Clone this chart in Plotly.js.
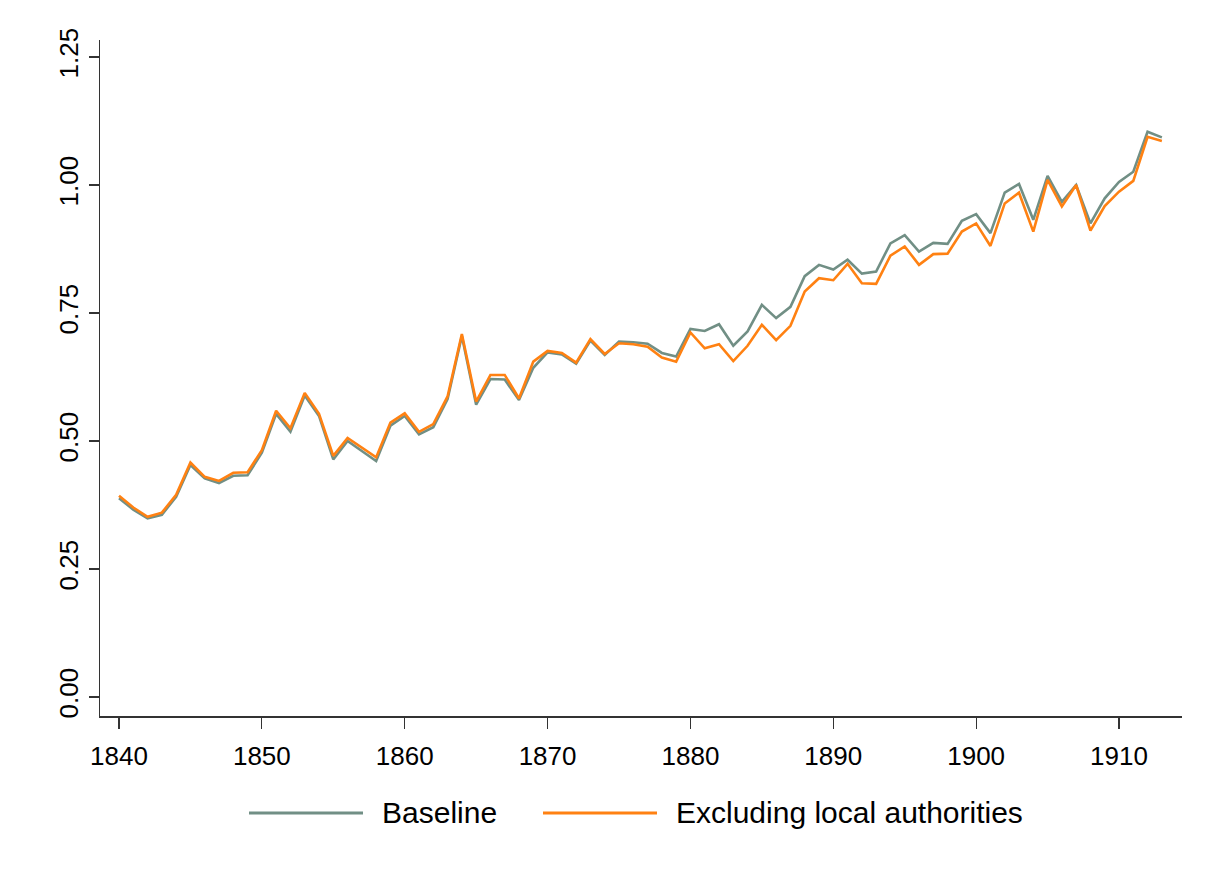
<!DOCTYPE html>
<html>
<head>
<meta charset="utf-8">
<script src="https://cdn.plot.ly/plotly-3.0.1.min.js"></script>
<style>html,body{margin:0;padding:0;background:#fff;}#chart{width:1206px;height:877px;}</style>
</head>
<body>
<div id="chart"></div>
<script>
const years = [];
for (let y = 1840; y <= 1913; y++) years.push(y);

const baseline = [
  0.388, 0.366, 0.349, 0.356, 0.391, 0.453, 0.427, 0.418, 0.432, 0.433,
  0.477, 0.553, 0.518, 0.589, 0.549, 0.464, 0.500, 0.481, 0.461, 0.530,
  0.549, 0.513, 0.527, 0.582, 0.705, 0.571, 0.621, 0.620, 0.580, 0.643,
  0.673, 0.669, 0.651, 0.696, 0.668, 0.694, 0.693, 0.690, 0.672, 0.665,
  0.719, 0.715, 0.728, 0.686, 0.714, 0.766, 0.740, 0.762, 0.822, 0.844,
  0.835, 0.854, 0.827, 0.831, 0.886, 0.902, 0.870, 0.887, 0.885, 0.930,
  0.943, 0.906, 0.985, 1.002, 0.932, 1.018, 0.967, 1.000, 0.925, 0.974,
  1.006, 1.026, 1.104, 1.093
];

const excludingLocal = [
  0.393, 0.370, 0.352, 0.360, 0.395, 0.458, 0.430, 0.422, 0.438, 0.439,
  0.482, 0.559, 0.525, 0.594, 0.553, 0.471, 0.506, 0.487, 0.468, 0.536,
  0.554, 0.518, 0.533, 0.587, 0.709, 0.577, 0.629, 0.629, 0.583, 0.655,
  0.676, 0.672, 0.653, 0.699, 0.670, 0.691, 0.689, 0.684, 0.663, 0.655,
  0.712, 0.681, 0.689, 0.656, 0.686, 0.727, 0.697, 0.725, 0.792, 0.818,
  0.814, 0.846, 0.808, 0.807, 0.862, 0.880, 0.844, 0.865, 0.866, 0.909,
  0.925, 0.881, 0.964, 0.985, 0.909, 1.010, 0.958, 1.000, 0.911, 0.959,
  0.987, 1.008, 1.094, 1.086
];

const seriesNames = ["Baseline", "Excluding local authorities"];
const xTicks = [1840, 1850, 1860, 1870, 1880, 1890, 1900, 1910];
const yTicks = [0, 0.25, 0.5, 0.75, 1.0, 1.25];
const yTickText = ["0.00", "0.25", "0.50", "0.75", "1.00", "1.25"];

const colBase = "#718f85";
const colExcl = "#ff8112";
const FONT = "Liberation Sans, Arial, sans-serif";

// plot area in pixels
const L = 100, R = 1182, T = 40, B = 716, W = 1206, H = 877;
const px = x => (x - L) / (R - L);
const py = y => (B - y) / (B - T);

const traces = [
  {x: years, y: baseline, type: "scatter", mode: "lines", name: seriesNames[0],
   line: {color: colBase, width: 2.6}, showlegend: false},
  {x: years, y: excludingLocal, type: "scatter", mode: "lines", name: seriesNames[1],
   line: {color: colExcl, width: 2.6}, showlegend: false}
];

const legendY = py(813);
const layout = {
  width: W, height: H,
  margin: {l: L, r: W - R, t: T, b: H - B, pad: 0},
  paper_bgcolor: "#fff", plot_bgcolor: "#fff",
  font: {family: FONT, color: "#000", size: 26},
  xaxis: {
    range: [1838.67, 1914.41], tickvals: xTicks, ticktext: xTicks.map(String),
    showgrid: false, zeroline: false, showline: true, linecolor: "#333", linewidth: 1.5,
    ticks: "outside", ticklen: 11, tickwidth: 1.2, tickcolor: "#333",
    ticklabelstandoff: 5,
    tickfont: {family: FONT, size: 26, color: "#000"}
  },
  yaxis: {
    range: [-0.0371, 1.2832], tickvals: yTicks, ticktext: yTickText,
    showgrid: false, zeroline: false, showline: true, linecolor: "#333", linewidth: 1.5,
    ticks: "outside", ticklen: 10, tickwidth: 1.2, tickcolor: "#333", tickangle: -90,
    tickfont: {family: FONT, size: 26, color: "#000"}
  },
  shapes: [
    {type: "line", xref: "paper", yref: "paper", x0: px(249), x1: px(363), y0: legendY, y1: legendY,
     line: {color: colBase, width: 2.8}},
    {type: "line", xref: "paper", yref: "paper", x0: px(543), x1: px(657), y0: legendY, y1: legendY,
     line: {color: colExcl, width: 2.8}}
  ],
  annotations: [
    {xref: "paper", yref: "paper", x: px(380), y: legendY, xanchor: "left", yanchor: "middle",
     text: seriesNames[0], showarrow: false, font: {family: FONT, size: 30, color: "#000"}},
    {xref: "paper", yref: "paper", x: px(674), y: legendY, xanchor: "left", yanchor: "middle",
     text: seriesNames[1], showarrow: false, font: {family: FONT, size: 30, color: "#000"}}
  ],
  showlegend: false
};

Plotly.newPlot("chart", traces, layout, {displayModeBar: false, staticPlot: true});
</script>
</body>
</html>
